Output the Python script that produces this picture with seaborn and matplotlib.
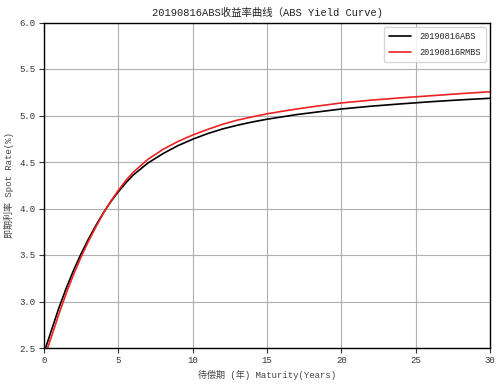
import matplotlib
matplotlib.use("Agg")
import matplotlib.pyplot as plt
import seaborn as sns
import pandas as pd

# Maturities (years)
maturity = [0, 0.5, 1, 1.5, 2, 2.5, 3, 3.5, 4, 4.5, 5, 5.5, 6, 7, 8, 9, 10,
            11, 12, 13, 14, 15, 16, 17, 18, 20, 22, 24, 26, 28, 30]
# 20190816ABS spot rates (%)
abs_rate = [2.45, 2.69, 2.93, 3.145, 3.34, 3.515, 3.675, 3.82, 3.955, 4.075,
            4.18, 4.275, 4.36, 4.49, 4.59, 4.675, 4.745, 4.805, 4.855, 4.895,
            4.93, 4.96, 4.985, 5.01, 5.03, 5.07, 5.10, 5.125, 5.148, 5.168, 5.185]
# 20190816RMBS spot rates (%)
rmbs_rate = [2.39, 2.62, 2.865, 3.09, 3.295, 3.48, 3.65, 3.805, 3.95, 4.08,
             4.195, 4.30, 4.39, 4.53, 4.635, 4.72, 4.79, 4.85, 4.905, 4.95,
             4.985, 5.018, 5.045, 5.07, 5.093, 5.135, 5.165, 5.19, 5.212, 5.235, 5.255]
series_names = ["20190816ABS", "20190816RMBS"]

title = "20190816ABS收益率曲线（ABS Yield Curve)"
xlabel = "待偿期 (年) Maturity(Years)"
ylabel = "即期利率 Spot Rate(%)"

sns.set_style("ticks", {"axes.grid": True, "grid.color": "#b0b0b0",
                        "axes.edgecolor": "black"})
plt.rcParams["font.family"] = ["Liberation Mono", "Noto Sans CJK SC", "DejaVu Sans"]

df = pd.DataFrame({
    "maturity": maturity * 2,
    "rate": abs_rate + rmbs_rate,
    "series": [series_names[0]] * len(maturity) + [series_names[1]] * len(maturity),
})

fig = plt.figure(figsize=(5.02, 3.87), dpi=100)
ax = fig.add_axes([44 / 502, 1 - 348 / 387, (490 - 44) / 502, (348 - 22.5) / 387])

sns.lineplot(data=df, x="maturity", y="rate", hue="series",
             palette={series_names[0]: "black", series_names[1]: "#ee2222"},
             linewidth=1.2, ax=ax)

ax.set_xlim(0, 30)
ax.set_ylim(2.5, 6.0)
yt = [2.5, 3.0, 3.5, 4.0, 4.5, 5.0, 5.5, 6.0]
ax.set_xticks([0, 5, 10, 15, 20, 25, 30])
ax.set_yticks(yt)
ax.set_yticklabels([f"{v:.1f}" for v in yt])
ax.tick_params(labelsize=6.5, length=3.5, width=0.8, colors="#333333", pad=2.5)
ax.grid(True, color="#b0b0b0", linewidth=0.8)
for s in ax.spines.values():
    s.set_linewidth(1.0)
    s.set_color("black")

ax.set_title(title, fontsize=7.5, color="#222222", pad=5)
ax.set_xlabel(xlabel, fontsize=6.5, color="#444444", labelpad=3)
ax.set_ylabel(ylabel, fontsize=6.5, color="#444444", labelpad=4)

leg = ax.legend(loc="upper right", fontsize=6.2, frameon=True, fancybox=True,
                framealpha=0.8, edgecolor="#cccccc", title=None,
                handlelength=2.6, handletextpad=0.9, borderpad=0.6,
                labelspacing=0.8)

fig.savefig("out.png", dpi=100)
